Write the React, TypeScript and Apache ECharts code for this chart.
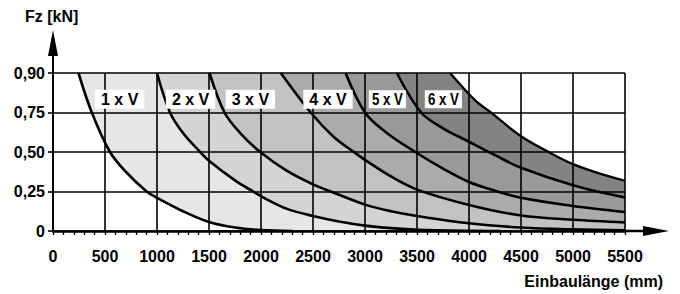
import React, { useEffect, useRef } from 'react';
import * as echarts from 'echarts';

// ---- data (x in mm, y in kN) ----
const yTickLabels = ['0', '0,25', '0,50', '0,75', '0,90'];
const curveNames = ['1 x V', '2 x V', '3 x V', '4 x V', '5 x V', '6 x V'];

const curve1xV: [number, number][] = [[245, 0.9], [373, 0.75], [548, 0.5], [700, 0.375], [900, 0.25], [1000, 0.21], [1250, 0.125], [1500, 0.057], [1750, 0.022], [2000, 0.006], [2300, 0]];
const curve2xV: [number, number][] = [[1000, 0.9], [1125, 0.75], [1250, 0.62], [1415, 0.5], [1500, 0.445], [1750, 0.32], [1925, 0.25], [2080, 0.192], [2250, 0.14], [2500, 0.095], [2750, 0.06], [3000, 0.034], [3250, 0.018], [3500, 0.008], [4000, 0.001], [4300, 0]];
const curve3xV: [number, number][] = [[1505, 0.9], [1649, 0.75], [1800, 0.62], [1993, 0.5], [2250, 0.38], [2500, 0.295], [2670, 0.25], [3000, 0.167], [3250, 0.125], [3500, 0.095], [4000, 0.049], [4500, 0.022], [5000, 0.01], [5500, 0.004]];
const curve4xV: [number, number][] = [[2191, 0.9], [2478, 0.75], [2700, 0.595], [2893, 0.5], [3000, 0.45], [3250, 0.345], [3500, 0.262], [4000, 0.165], [4500, 0.098], [5000, 0.071], [5500, 0.054]];
const curve5xV: [number, number][] = [[2813, 0.9], [3000, 0.75], [3200, 0.625], [3483, 0.5], [3750, 0.395], [4000, 0.31], [4250, 0.255], [4500, 0.21], [5000, 0.158], [5500, 0.12]];
const curve6xV: [number, number][] = [[3307, 0.9], [3540, 0.75], [3750, 0.65], [4000, 0.565], [4250, 0.48], [4500, 0.4], [5000, 0.29], [5500, 0.212]];
const outerLimit: [number, number][] = [[3818, 0.9], [4057, 0.797], [4210, 0.75], [4500, 0.6], [4766, 0.5], [5000, 0.423], [5250, 0.365], [5500, 0.318]];

const labelX = [641, 1323, 1898, 2644, 3215, 3754];
const labelY = 0.8;

// ---- styling ----
const bandColors = ['#ffffff', '#e6e6e6', '#d4d4d4', '#c2c2c2', '#ababab', '#999999', '#838383'];
const FONT = '"Liberation Sans", Arial, Helvetica, sans-serif';
const G_LEFT = 53;
const G_RIGHT = 55;
const G_TOP = 73;
const G_BOTTOM = 63;
const W = 680;
const H = 294;
const SMOOTH = 0.35;

// y axis: equal spacing, top line is 0,90 (0..0.75 linear, 0.75..0.90 stretched)
const toDisplay = (v: number) => (v <= 0.75 ? v : 0.75 + (v - 0.75) * (0.25 / 0.15));

function smoothPath(p: number[][], s: number) {
  const n = p.length;
  const cps = p.map((cur, i) => {
    if (i === 0 || i === n - 1) return [cur, cur];
    const prev = p[i - 1];
    const next = p[i + 1];
    const vx = next[0] - prev[0];
    const vy = next[1] - prev[1];
    const lp = Math.hypot(cur[0] - prev[0], cur[1] - prev[1]);
    const ln = Math.hypot(next[0] - cur[0], next[1] - cur[1]);
    const r = ln / (lp + ln || 1);
    return [
      [cur[0] - vx * s * (1 - r), cur[1] - vy * s * (1 - r)],
      [cur[0] + vx * s * r, cur[1] + vy * s * r],
    ];
  });
  let d = '';
  for (let i = 1; i < n; i++) {
    const a = cps[i - 1][1];
    const b = cps[i][0];
    const e = p[i];
    d += ` C${a[0]},${a[1]} ${b[0]},${b[1]} ${e[0]},${e[1]}`;
  }
  return d;
}

export default function App() {
  const ref = useRef<HTMLDivElement>(null);

  useEffect(() => {
    if (!ref.current) return;
    const chart = echarts.init(ref.current, null, { renderer: 'svg' });
    const boundaries = [curve1xV, curve2xV, curve3xV, curve4xV, curve5xV, curve6xV, outerLimit];
    const fillOrder = boundaries.map((_, i) => boundaries.length - 1 - i); // outermost first

    const project = (api: any, pts: [number, number][]) => pts.map(([x, y]) => api.coord([x, toDisplay(y)]));

    const axisY = H - G_BOTTOM;
    const axisRight = W - G_RIGHT;

    chart.setOption({
      animation: false,
      backgroundColor: '#fff',
      grid: { left: G_LEFT, right: G_RIGHT, top: G_TOP, bottom: G_BOTTOM },
      xAxis: {
        type: 'value',
        min: 0,
        max: 5500,
        interval: 500,
        z: 10,
        axisLine: { show: true, lineStyle: { color: '#000', width: 2.5 } },
        axisTick: { show: true, length: 4, lineStyle: { color: '#000', width: 1.3 } },
        minorTick: { show: true, splitNumber: 5, length: 4, lineStyle: { color: '#000', width: 1.3 } },
        splitLine: { show: true, lineStyle: { color: '#000', width: 1.6 } },
        axisLabel: {
          formatter: (v: number) => String(v),
          color: '#000',
          fontFamily: FONT,
          fontWeight: 'bold',
          fontSize: 16,
          margin: 17,
        },
      },
      yAxis: {
        type: 'value',
        min: 0,
        max: 1,
        interval: 0.25,
        z: 10,
        axisLine: { show: true, lineStyle: { color: '#000', width: 2 } },
        axisTick: { show: true, length: 5, lineStyle: { color: '#000', width: 1.6 } },
        splitLine: { show: true, lineStyle: { color: '#000', width: 1.6 } },
        axisLabel: {
          formatter: (v: number) => yTickLabels[Math.round(v / 0.25)],
          color: '#000',
          fontFamily: FONT,
          fontWeight: 'bold',
          fontSize: 16,
          margin: 8,
        },
      },
      series: [
        {
          type: 'custom',
          name: 'Bereiche',
          coordinateSystem: 'cartesian2d',
          silent: true,
          z: 2,
          data: fillOrder.map((i) => [boundaries[i][0][0], toDisplay(0.9)]),
          renderItem: (params: any, api: any) => {
            const i = fillOrder[params.dataIndex];
            const b = boundaries[i];
            const pts = project(api, b);
            const c0 = api.coord([0, 0]);
            const cTop = api.coord([0, toDisplay(0.9)]);
            const cEnd = api.coord([b[b.length - 1][0], 0]);
            const d =
              `M${c0[0]},${c0[1]} L${cTop[0]},${cTop[1]} L${pts[0][0]},${pts[0][1]}` +
              smoothPath(pts, SMOOTH) +
              ` L${cEnd[0]},${cEnd[1]} Z`;
            return { type: 'path', z2: params.dataIndex, shape: { pathData: d }, style: { fill: bandColors[i], stroke: null } };
          },
        },
        {
          type: 'custom',
          name: 'Kurven',
          coordinateSystem: 'cartesian2d',
          silent: true,
          z: 12,
          data: boundaries.map((b) => [b[0][0], toDisplay(b[0][1])]),
          renderItem: (params: any, api: any) => {
            const i = params.dataIndex;
            const pts = project(api, boundaries[i]);
            const d = `M${pts[0][0]},${pts[0][1]}` + smoothPath(pts, SMOOTH);
            return {
              type: 'path',
              shape: { pathData: d },
              style: { fill: 'none', stroke: '#000', lineWidth: i === boundaries.length - 1 ? 2.3 : 2.6, lineJoin: 'round' },
            };
          },
        },
        {
          type: 'custom',
          name: 'Beschriftung',
          coordinateSystem: 'cartesian2d',
          silent: true,
          z: 14,
          data: labelX.map((x) => [x, toDisplay(labelY)]),
          renderItem: (params: any, api: any) => {
            const i = params.dataIndex;
            const p = api.coord([api.value(0), api.value(1)]);
            const condensed = i >= 4;
            return {
              type: 'text',
              x: p[0],
              y: p[1],
              scaleX: condensed ? 0.78 : 1,
              style: {
                text: curveNames[i],
                x: 0,
                y: 0,
                align: 'center',
                verticalAlign: 'middle',
                font: `bold ${condensed ? 17 : 16}px ${FONT}`,
                fill: '#000',
                backgroundColor: '#fff',
                padding: condensed ? [1, 4, 0, 4] : [2, 6, 1, 6],
              },
            };
          },
        },
      ],
      graphic: [
        { type: 'line', shape: { x1: G_LEFT, y1: G_TOP + 1, x2: G_LEFT, y2: 54 }, style: { stroke: '#000', lineWidth: 2 }, z: 20 },
        { type: 'polygon', shape: { points: [[G_LEFT, 30], [G_LEFT - 5, 56], [G_LEFT + 5, 56]] }, style: { fill: '#000' }, z: 20 },
        { type: 'line', shape: { x1: axisRight - 1, y1: axisY, x2: 646, y2: axisY }, style: { stroke: '#000', lineWidth: 2.5 }, z: 20 },
        { type: 'polygon', shape: { points: [[669, axisY], [643, axisY - 5], [643, axisY + 5]] }, style: { fill: '#000' }, z: 20 },
        { type: 'text', left: 25, top: 8, style: { text: 'Fz [kN]', font: `bold 16px ${FONT}`, fill: '#000' }, z: 20 },
        { type: 'text', right: 17, top: 273, style: { text: 'Einbaulänge (mm)', font: `bold 16px ${FONT}`, fill: '#000' }, z: 20 },
      ],
    });
    return () => chart.dispose();
  }, []);

  return <div ref={ref} style={{ position: 'fixed', left: 0, top: 0, width: W, height: H }} />;
}
